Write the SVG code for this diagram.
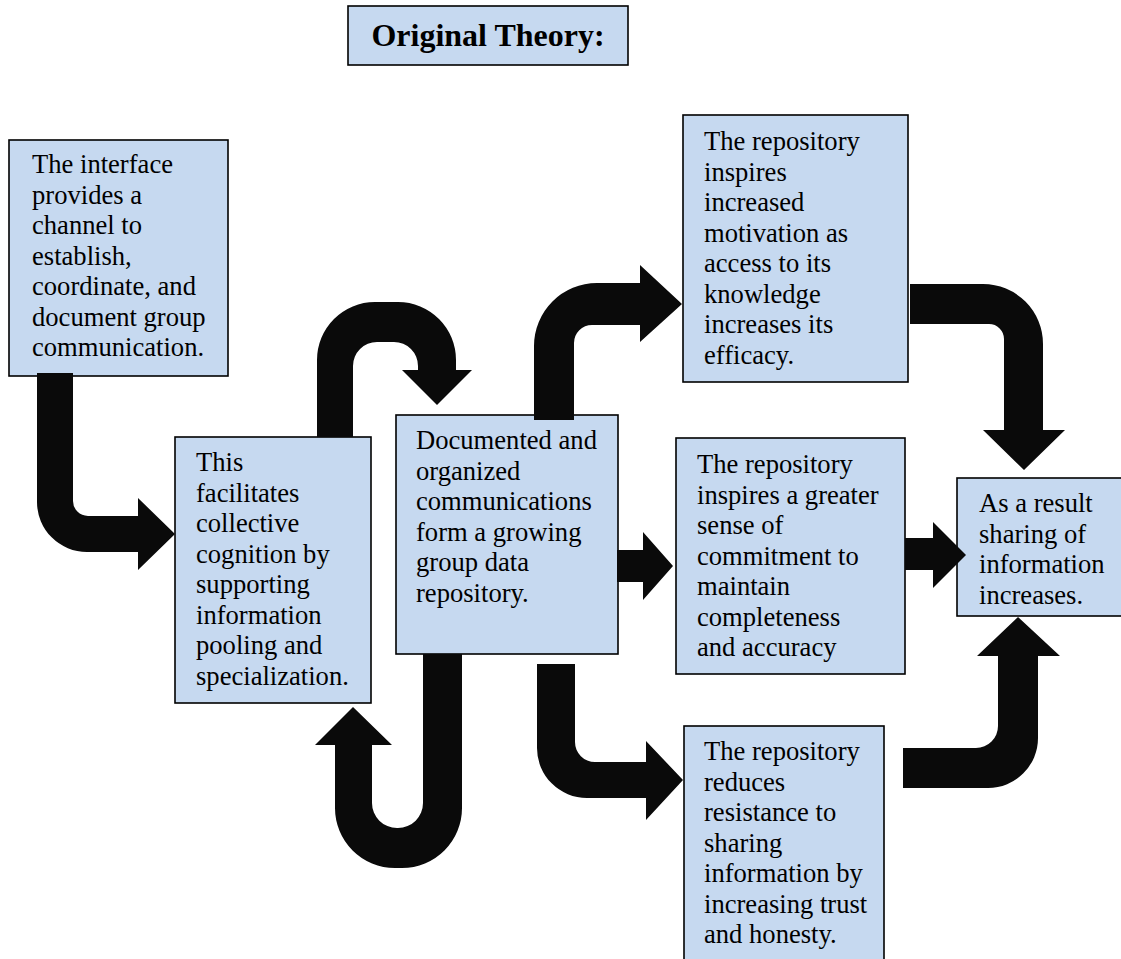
<svg xmlns="http://www.w3.org/2000/svg" width="1121" height="959" viewBox="0 0 1121 959">
<style>
.box{fill:#c6d9f0;stroke:#000;stroke-width:1.6}
.t{font-family:"Liberation Serif","Times New Roman",serif;font-size:26.6px;fill:#000}
.title{font-family:"Liberation Serif","Times New Roman",serif;font-size:32px;font-weight:bold;fill:#000}
.arr{fill:#0a0a0a}
</style>
<rect width="1121" height="959" fill="#fff"/>
<g id="title">
<rect class="box" x="348" y="6" width="280" height="59"/>
<text class="title" x="488" y="46" text-anchor="middle">Original Theory:</text>
</g>
<g id="n1">
<rect class="box" x="9" y="140" width="219" height="236"/>
<text class="t"><tspan x="32" y="173">The interface</tspan><tspan x="32" y="203.5">provides a</tspan><tspan x="32" y="234">channel to</tspan><tspan x="32" y="264.5">establish,</tspan><tspan x="32" y="295">coordinate, and</tspan><tspan x="32" y="325.5">document group</tspan><tspan x="32" y="356">communication.</tspan></text>
</g>
<g id="n2">
<rect class="box" x="175" y="437" width="196" height="266"/>
<text class="t"><tspan x="196" y="471">This</tspan><tspan x="196" y="501.5">facilitates</tspan><tspan x="196" y="532">collective</tspan><tspan x="196" y="562.5">cognition by</tspan><tspan x="196" y="593">supporting</tspan><tspan x="196" y="623.5">information</tspan><tspan x="196" y="654">pooling and</tspan><tspan x="196" y="684.5">specialization.</tspan></text>
</g>
<g id="n3">
<rect class="box" x="396" y="415" width="222" height="239"/>
<text class="t"><tspan x="416" y="449">Documented and</tspan><tspan x="416" y="479.5">organized</tspan><tspan x="416" y="510">communications</tspan><tspan x="416" y="540.5">form a growing</tspan><tspan x="416" y="571">group data</tspan><tspan x="416" y="601.5">repository.</tspan></text>
</g>
<g id="n4">
<rect class="box" x="683" y="115" width="225" height="267"/>
<text class="t"><tspan x="704" y="150">The repository</tspan><tspan x="704" y="180.5">inspires</tspan><tspan x="704" y="211">increased</tspan><tspan x="704" y="241.5">motivation as</tspan><tspan x="704" y="272">access to its</tspan><tspan x="704" y="302.5">knowledge</tspan><tspan x="704" y="333">increases its</tspan><tspan x="704" y="363.5">efficacy.</tspan></text>
</g>
<g id="n5">
<rect class="box" x="676" y="438" width="229" height="236"/>
<text class="t"><tspan x="697" y="473">The repository</tspan><tspan x="697" y="503.5">inspires a greater</tspan><tspan x="697" y="534">sense of</tspan><tspan x="697" y="564.5">commitment to</tspan><tspan x="697" y="595">maintain</tspan><tspan x="697" y="625.5">completeness</tspan><tspan x="697" y="656">and accuracy</tspan></text>
</g>
<g id="n6">
<rect class="box" x="957" y="478" width="170" height="138"/>
<text class="t"><tspan x="979" y="512">As a result</tspan><tspan x="979" y="542.5">sharing of</tspan><tspan x="979" y="573">information</tspan><tspan x="979" y="603.5">increases.</tspan></text>
</g>
<g id="n7">
<rect class="box" x="684" y="726" width="200" height="240"/>
<text class="t"><tspan x="704" y="760">The repository</tspan><tspan x="704" y="790.5">reduces</tspan><tspan x="704" y="821">resistance to</tspan><tspan x="704" y="851.5">sharing</tspan><tspan x="704" y="882">information by</tspan><tspan x="704" y="912.5">increasing trust</tspan><tspan x="704" y="943">and honesty.</tspan></text>
</g>
<g id="connectors">
<path class="arr" d="M37,373 H73 V501 A15,15 0 0 0 88,516 H138 V498 L175,534 L138,570 V552 H87 A50,50 0 0 1 37,502 Z"/>
<path class="arr" d="M317,437 V360 A58,58 0 0 1 375,302 H398 A58,58 0 0 1 456,360 V370 H472 L437,405 L402,370 H418 V366 A24,24 0 0 0 394,342 H377 A24,24 0 0 0 353,366 V437 Z"/>
<path class="arr" d="M534,420 V346 A63,63 0 0 1 597,283 H640 V265 L682,304 L640,342 V325 H592 A18,18 0 0 0 574,343 V420 Z"/>
<path class="arr" d="M910,284 H983 A60,60 0 0 1 1043,344 V430 H1065 L1024,470 L983,430 H1004 V339 A15,15 0 0 0 989,324 H910 Z"/>
<path class="arr" d="M462,654 V808 A60,60 0 0 1 402,868 H395 A60,60 0 0 1 335,808 V745 H315 L353,707 L392,745 H372 V803 A25,25 0 0 0 397,828 H398 A25,25 0 0 0 423,803 V654 Z"/>
<path class="arr" d="M537,664 H575 V742 A20,20 0 0 0 595,762 H646 V741 L683,780 L646,820 V798 H587 A50,50 0 0 1 537,748 Z"/>
<path class="arr" d="M903,748 H976 A22,22 0 0 0 998,726 V656 H977 L1018,617 L1060,656 H1038 V738 A50,50 0 0 1 988,788 H903 Z"/>
<path class="arr" d="M617,550 H643 V532 L673,566 L643,600 V582 H617 Z"/>
<path class="arr" d="M905,538 H933 V522 L966,555 L933,588 V570 H905 Z"/>
</g>
</svg>
